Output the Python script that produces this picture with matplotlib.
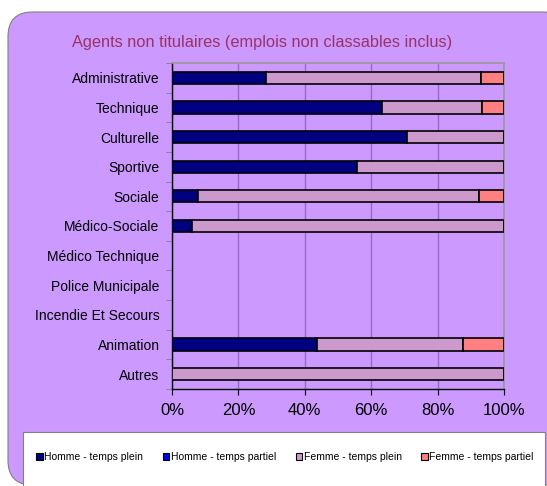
import numpy as np
import matplotlib
matplotlib.use("Agg")
import matplotlib.pyplot as plt
from matplotlib.patches import FancyBboxPatch, Rectangle, Patch
from matplotlib.ticker import FuncFormatter

plt.rcParams['font.family'] = ['Liberation Sans', 'DejaVu Sans']

# data (shares in %)
categories = ["Administrative", "Technique", "Culturelle", "Sportive", "Sociale",
              "Médico-Sociale", "Médico Technique", "Police Municipale",
              "Incendie Et Secours", "Animation", "Autres"]
homme_plein = [28.2, 63.3, 70.9, 55.7, 7.9, 6.0, 0, 0, 0, 43.8, 0]
homme_partiel = [0, 0, 0, 0, 0, 0, 0, 0, 0, 0, 0]
femme_plein = [64.8, 30.2, 29.1, 44.3, 84.5, 94.0, 0, 0, 0, 43.7, 100]
femme_partiel = [7.0, 6.5, 0, 0, 7.6, 0, 0, 0, 0, 12.5, 0]

series = [
    ("Homme - temps plein", homme_plein, "#000080"),
    ("Homme - temps partiel", homme_partiel, "#0000FF"),
    ("Femme - temps plein", femme_plein, "#CC99CC"),
    ("Femme - temps partiel", femme_partiel, "#FF8080"),
]

bg = "#CC99FF"
fig = plt.figure(figsize=(5.47, 4.86), dpi=100)
fig.patch.set_facecolor("white")

# purple rounded frame
fig.patches.append(FancyBboxPatch((8 / 547, 1 / 486), 560 / 547, 473 / 486,
                                  boxstyle="round,pad=0,rounding_size=0.045",
                                  transform=fig.transFigure, facecolor=bg,
                                  edgecolor="#808080", linewidth=0.8, zorder=-2,
                                  mutation_aspect=547 / 486))
# white legend box
fig.patches.append(Rectangle((23 / 547, -2 / 486), 522 / 547, 56 / 486,
                             transform=fig.transFigure, facecolor="white",
                             edgecolor="#808080", linewidth=0.8, zorder=-1))

ax = fig.add_axes([172 / 547, 1 - 389 / 486, 332 / 547, 326 / 486])
ax.set_zorder(3)
ax.set_facecolor(bg)

y = np.arange(len(categories))
left = np.zeros(len(categories))
for name, vals, col in series:
    vals = np.array(vals, dtype=float)
    ax.barh(y, vals, left=left, height=0.41, color=col, edgecolor="black",
            linewidth=1.2, label=name, zorder=3)
    left += vals

ax.set_xlim(0, 100)
ax.set_ylim(len(categories) - 0.5, -0.5)
ax.set_xticks(np.arange(0, 101, 20))
ax.xaxis.set_major_formatter(FuncFormatter(lambda v, p: f"{int(v)}%"))
ax.tick_params(axis="x", labelsize=12, length=4, width=0.8, colors="black", pad=6)
ax.set_yticks(y)
ax.set_yticklabels(categories, fontsize=10)
ax.set_yticks(np.arange(-0.5, len(categories), 1), minor=True)
ax.tick_params(axis="y", which="major", length=0, pad=9)
ax.tick_params(axis="y", which="minor", length=4, color="#808080")
ax.grid(axis="x", color="#9966CC", linewidth=1.0, zorder=0)
ax.set_axisbelow(True)
for s in ["top", "right"]:
    ax.spines[s].set_color("#999999")
    ax.spines[s].set_linewidth(1.2)
for s in ["left", "bottom"]:
    ax.spines[s].set_color("black")
    ax.spines[s].set_linewidth(1.0)

fig.text(262 / 547, 1 - 43 / 486, "Agents non titulaires (emplois non classables inclus)",
         ha="center", va="center", fontsize=11.8, color="#993366")

handles = [Patch(facecolor=c, edgecolor="black", linewidth=0.8) for _, _, c in series]
fig.legend(handles, [n for n, _, _ in series], loc="center",
           bbox_to_anchor=(285 / 547, 1 - 457 / 486), ncol=4, frameon=False,
           fontsize=7.5, handlelength=0.6, handleheight=0.6, handletextpad=0.15,
           columnspacing=1.9)

fig.savefig("out.png", dpi=100, facecolor=fig.get_facecolor())
